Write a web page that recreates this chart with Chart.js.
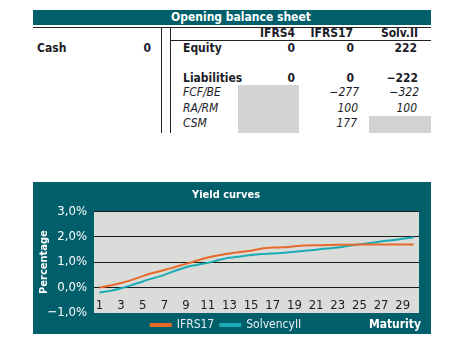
<!DOCTYPE html>
<html>
<head>
<meta charset="utf-8">
<script src="https://cdn.jsdelivr.net/npm/chart.js@4.4.0/dist/chart.umd.min.js"></script>
<style>
  body { margin: 0; background: #fff; font-family: 'DejaVu Sans Condensed', 'DejaVu Sans', sans-serif; }
  #page { position: relative; width: 463px; height: 349px; overflow: hidden; }
  .t { position: absolute; font-size: 12px; line-height: 14px; color: #1c1c28; white-space: nowrap; }
  .b { font-weight: bold; }
  .i { font-style: italic; }
  .r { width: 80px; text-align: right; }
  .hl { position: absolute; height: 1px; background: #222; }
  .vl { position: absolute; width: 1px; background: #222; }
  .grey { position: absolute; background: #d1d3d4; }
  #header { position: absolute; left: 33px; top: 10px; width: 380px; padding-left: 18px; height: 15px;
            background: #005f6b; color: #fff; font-weight: bold; font-size: 12px; line-height: 15px; text-align: center; }
  #box { position: absolute; left: 33px; top: 182px; width: 398px; height: 152px; background: #005f6b; }
  #maturity { position: absolute; right: 10px; top: 135px; color: #fff; font-weight: bold; font-size: 12px; line-height: 14px; }
</style>
</head>
<body>
<div id="page">
  <!-- balance sheet -->
  <div id="header">Opening balance sheet</div>
  <div class="hl" style="left:33px; top:27px; width:398px"></div>
  <div class="hl" style="left:170px; top:40px; width:261px"></div>
  <div class="vl" style="left:161px; top:27px; height:106px"></div>
  <div class="vl" style="left:170px; top:27px; height:106px"></div>
  <div class="grey" style="left:238px; top:85px; width:61px; height:48px"></div>
  <div class="grey" style="left:369px; top:116px; width:62px; height:17px"></div>

  <div class="t b r" style="left:215px; top:26px">IFRS4</div>
  <div class="t b r" style="left:273px; top:26px">IFRS17</div>
  <div class="t b r" style="left:338px; top:26px">Solv.II</div>

  <div class="t b" style="left:37px; top:41px">Cash</div>
  <div class="t b r" style="left:71px; top:41px">0</div>
  <div class="t b" style="left:183px; top:41px">Equity</div>
  <div class="t b r" style="left:215px; top:41px">0</div>
  <div class="t b r" style="left:274px; top:41px">0</div>
  <div class="t b r" style="left:337px; top:41px">222</div>

  <div class="t b" style="left:183px; top:71px">Liabilities</div>
  <div class="t b r" style="left:215px; top:71px">0</div>
  <div class="t b r" style="left:274px; top:71px">0</div>
  <div class="t b r" style="left:338px; top:71px">−222</div>

  <div class="t i" style="left:183px; top:85px">FCF/BE</div>
  <div class="t i r" style="left:279px; top:85px">−277</div>
  <div class="t i r" style="left:339px; top:85px">−322</div>

  <div class="t i" style="left:183px; top:101px">RA/RM</div>
  <div class="t i r" style="left:278px; top:101px">100</div>
  <div class="t i r" style="left:337px; top:101px">100</div>

  <div class="t i" style="left:183px; top:116px">CSM</div>
  <div class="t i r" style="left:277px; top:116px">177</div>

  <!-- yield curve chart -->
  <div id="box">
    <canvas id="yield" width="398" height="152"></canvas>
    <div id="maturity">Maturity</div>
  </div>
</div>

<script>
const maturities = [1, 2, 3, 4, 5, 6, 7, 8, 9, 10, 11, 12, 13, 14, 15,
                    16, 17, 18, 19, 20, 21, 22, 23, 24, 25, 26, 27, 28, 29, 30];

const ifrs17 = [0.00, 0.08, 0.18, 0.30, 0.45, 0.58, 0.69, 0.81, 0.93, 1.06,
                1.18, 1.27, 1.34, 1.40, 1.45, 1.53, 1.57, 1.58, 1.62, 1.65,
                1.66, 1.67, 1.68, 1.68, 1.69, 1.69, 1.69, 1.69, 1.69, 1.69];

const solvencyII = [-0.20, -0.13, -0.03, 0.10, 0.24, 0.37, 0.50, 0.66, 0.80, 0.89,
                    0.97, 1.08, 1.17, 1.22, 1.28, 1.32, 1.34, 1.37, 1.41, 1.45,
                    1.49, 1.53, 1.57, 1.64, 1.70, 1.75, 1.81, 1.86, 1.92, 1.98];

const yTickValues = [-1, 0, 1, 2, 3];
const yTickLabels = ['−1,0%', '0,0%', '1,0%', '2,0%', '3,0%'];

const family = "'DejaVu Sans Condensed', 'DejaVu Sans', sans-serif";
Chart.defaults.font.family = family;

// grey fill behind the plot
const plotBackground = {
  id: 'plotBackground',
  beforeDraw(chart) {
    const { ctx, chartArea: a } = chart;
    ctx.save();
    ctx.fillStyle = '#d9dcd9';
    ctx.fillRect(a.left, a.top, a.right - a.left, a.bottom - a.top);
    ctx.restore();
  }
};

new Chart(document.getElementById('yield'), {
  type: 'line',
  data: {
    labels: maturities,
    datasets: [{
      label: 'IFRS17',
      data: ifrs17,
      borderColor: '#e8692a',
      backgroundColor: '#e8692a',
      borderWidth: 2,
      pointRadius: 0,
      tension: 0.3
    }, {
      label: 'SolvencyII',
      data: solvencyII,
      borderColor: '#1aabb5',
      backgroundColor: '#1aabb5',
      borderWidth: 2,
      pointRadius: 0,
      tension: 0.3
    }]
  },
  options: {
    responsive: false,
    animation: false,
    layout: { padding: { left: 0, right: 12, top: 0, bottom: 0 } },
    plugins: {
      title: {
        display: true,
        text: 'Yield curves',
        color: '#fff',
        font: { size: 11, weight: 'bold' },
        padding: { top: 7, bottom: 9 }
      },
      legend: {
        position: 'bottom',
        maxHeight: 21,
        labels: {
          color: '#e8eef0',
          boxWidth: 20,
          boxHeight: 2,
          padding: 6,
          font: { size: 12 }
        }
      },
      tooltip: { enabled: false }
    },
    scales: {
      x: {
        position: { y: 0 },
        offset: true,
        grid: { display: false, drawTicks: false },
        border: { display: false },
        ticks: {
          autoSkip: false,
          maxRotation: 0,
          color: '#1c1c28',
          padding: 10,
          font: { size: 13 },
          callback: (value, index) => index % 2 === 0 ? maturities[index] : ''
        }
      },
      y: {
        min: -1,
        max: 3,
        afterFit(scale) { scale.width = 61; },
        afterBuildTicks(scale) { scale.ticks = yTickValues.map(v => ({ value: v })); },
        grid: {
          drawTicks: false,
          color: ctx => ctx.tick && ctx.tick.value === -1 ? 'rgba(0,0,0,0)' : '#1a1a1a'
        },
        border: { display: false },
        ticks: {
          color: '#fff',
          padding: 7,
          font: { size: 13 },
          callback: value => yTickLabels[yTickValues.indexOf(value)]
        },
        title: {
          display: true,
          text: 'Percentage',
          color: '#fff',
          font: { size: 11, weight: 'bold' },
          padding: { top: 5, bottom: 0 }
        }
      }
    }
  },
  plugins: [plotBackground]
});
</script>
</body>
</html>
